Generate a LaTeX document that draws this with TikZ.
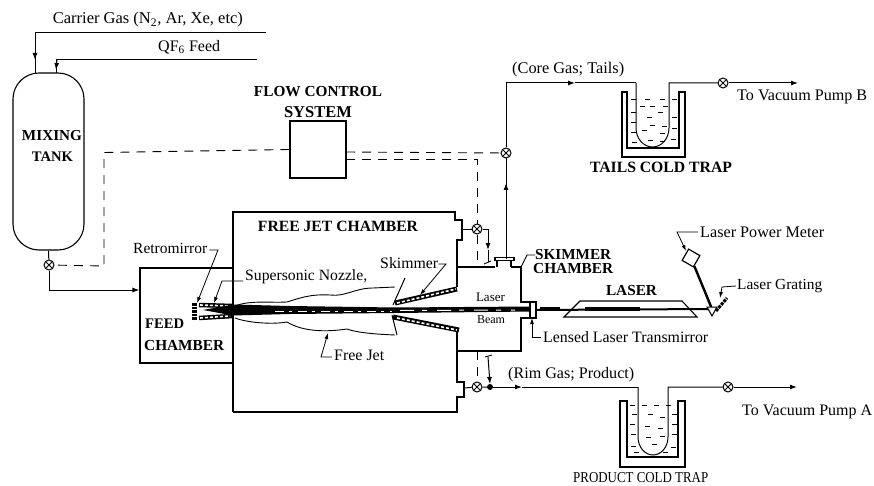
\documentclass[tikz,border=0pt]{standalone}
\usepackage{graphicx}
\usepackage{fontspec}
\setmainfont{Liberation Serif}
\usetikzlibrary{arrows.meta}
\newcommand{\fitw}[2]{\resizebox{#1pt}{!}{#2}}
\tikzset{
  x=1pt,y=-1pt,
  pipe/.style={line width=1pt,draw=black},
  flow/.style={pipe,-{Latex[length=7pt,width=5pt]}},
  lead/.style={line width=0.8pt,-{Latex[length=6pt,width=4pt]}},
  ctrl/.style={line width=0.9pt,dash pattern=on 9pt off 7pt},
  lab/.style={inner sep=0pt,anchor=west},
  head/.style={inner sep=0pt,font=\bfseries},
  valve/.style={circle,draw,line width=1pt,minimum size=10pt,inner sep=0pt,fill=white,
    path picture={\draw[line width=.9pt] (path picture bounding box.north west)--(path picture bounding box.south east)
      (path picture bounding box.north east)--(path picture bounding box.south west);}},
  dotj/.style={circle,fill=black,minimum size=6pt,inner sep=0pt},
  box/.style={draw,line width=1.1pt,inner sep=0pt},
  wall/.style={line width=1.4pt,line join=miter},
  strip/.style={line width=5pt,draw=black},
  stripin/.style={line width=1.6pt,draw=white,dash pattern=on 3pt off 2pt},
  liq/.style={line width=.8pt},
}
\begin{document}
\begin{tikzpicture}
\path[use as bounding box,fill=white] (0,0) rectangle (874,486);

% ---------- main nodes
\node[box,rounded corners=26pt,minimum width=71pt,minimum height=177pt] (tank) at (48.5,161.5) {};
\node[box,minimum width=56pt,minimum height=57pt] (flow) at (318,149.5) {};
\node[box,minimum width=93pt,minimum height=95pt] (feed) at (186.5,315.5) {};

\node[valve] (v1) at (49,265) {};
\node[valve] (v2) at (477,229) {};
\node[valve] (v3) at (506,153) {};
\node[valve] (v4) at (477,387) {};
\node[valve] (v5) at (723,83) {};
\node[valve] (v6) at (728,387) {};
\node[dotj] (j1) at (490,387) {};

% free jet + skimmer chamber
\draw[wall] (233,412)--(233,212)--(455,212)--(455,220)--(462,220)--(462,240)--(457,240)--(457,287);
\draw[wall] (457,331)--(457,382)--(464,382)--(464,397)--(457,397)--(457,412)--(233,412);
\draw[line width=1.1pt] (457,267)--(495,267) (511,267)--(521,267)--(521,302)--(530,302)
   (530,318)--(521,318)--(521,351)--(457,351);
\coordinate (fl1) at (464,388);
\coordinate (fl2) at (462,229);

% ---------- input pipes
\coordinate (cg0) at (266,33);
\coordinate (cg1) at (35,33);
\coordinate (cg2) at (35,73);
\coordinate (qf0) at (257,60);
\coordinate (qf1) at (56,60);
\coordinate (qf2) at (56,73);
\draw[pipe] (cg0)--(cg1)--(cg2);
\draw[flow] (35,33)--(35,60);
\draw[pipe] (qf0)--(qf1)--(qf2);
\draw[flow] (57,60)--(56,70);
\draw[pipe] (tank.south)--(v1);
\draw[flow] (v1)--(49,290)--(feed.west|-0,290);

% ---------- control (dashed) lines
\draw[ctrl] (flow.west)--(104,152.5)--(104,266)--(v1);
\draw[ctrl] (346,152)--(v3);
\draw[ctrl] (346,159)--(477,159)--(v2);
\draw[ctrl] (v2)--(477,267);
\draw[ctrl] (477,351)--(v4);

% ---------- core gas (top)
\node[draw,line width=1.1pt,minimum width=19pt,minimum height=3pt,inner sep=0pt] (sf) at (504.5,259) {};
\draw[line width=1.1pt] (497,260)--(497,267) (511,260)--(511,267);
\draw[pipe] (506,259)--(v3);
\draw[flow] (506,259)--(506,183);
\coordinate (c1) at (506,83);
\coordinate (c2) at (636,83);
\coordinate (c3) at (669,83);
\draw[pipe] (v3)--(c1);
\draw[flow] (c1)--(575,83);
\draw[pipe] (575,83)--(c2);
\draw[pipe] (c2)--(636,128) arc[start angle=180,end angle=360,x radius=16.5,y radius=-19]--(c3)--(v5);
\coordinate (pB) at (798,83);
\draw[flow] (v5)--(pB);
% tails trap
\draw[line width=1.2pt] (622,92)--(622,157)--(685,157)--(685,92)--(679,92)--(679,148)--(627,148)--(627,92)--cycle;
\foreach \xa/\ya in {631/99,645/99,660/99,672/99,640/106,650/106,663/106,631/112,647/117,658/112,672/117,631/122,650/125,662/126,631/132,642/130,660/133,672/128,648/140,660/141,632/142,671/139}
  \draw[liq] (\xa,\ya)--++(5,0);

% ---------- rim gas (bottom)
\draw[pipe] (fl1)--(v4)--(j1);
\coordinate (r1) at (638,387);
\coordinate (r2) at (668,387);
\draw[flow] (j1)--(522,387);
\draw[pipe] (522,387)--(r1);
\draw[pipe] (r1)--(638,437) arc[start angle=180,end angle=360,x radius=15,y radius=-18]--(r2)--(v6);
\coordinate (pA) at (797,387);
\draw[flow] (v6)--(pA);
\draw[flow] (488,357)--(490,384);
\draw[line width=.9pt] (485,357)--(492,355);
% product trap
\draw[line width=1.2pt] (620,401)--(620,467)--(685,467)--(685,401)--(678,401)--(678,457)--(627,457)--(627,401)--cycle;
\foreach \xa/\ya in {630/405,642/405,654/405,666/405,632/414,648/414,660/417,672/414,630/424,645/426,658/428,672/424,631/434,646/437,660/436,672/434,631/446,652/444,671/447,634/452,663/452}
  \draw[liq] (\xa,\ya)--++(5,0);

% valve v2 branch to chamber flange
\draw[pipe] (fl2)--(v2);
\draw[pipe] (v2)--(488,229);
\draw[flow] (488,229)--(488,250);
\draw[pipe] (488,250)--(488,262);
\draw[line width=.9pt] (484,264)--(491,261);

% ---------- skimmer cones
\draw[strip] (395,303)--(457,289);
\draw[stripin] (397,303)--(456,289);
\draw[strip] (393,317)--(459,330);
\draw[stripin] (397,318)--(457,330);
\draw[line width=1pt] (405,278)--(393,305) (392,315)--(397,335);

% ---------- free jet
\draw[line width=.9pt] (235,306) .. controls (250,300) and (270,303) .. (287,302)
  .. controls (300,298) and (310,294) .. (330,295) .. controls (345,297) and (355,288) .. (373,288)--(395,287);
\draw[line width=.9pt] (235,318) .. controls (245,322) and (270,325) .. (287,322)
  .. controls (300,330) and (320,333) .. (347,329) .. controls (355,332) and (370,334) .. (395,335);

% ---------- nozzle, retromirror
\draw[strip,line width=4.5pt] (199,305)--(233,306);
\draw[stripin] (200,305)--(230,306);
\draw[strip,line width=4.5pt] (199,318)--(233,316);
\draw[stripin] (200,318)--(230,316);
\draw[line width=5pt,dash pattern=on 2.5pt off 1pt] (194.5,303)--(194.5,320);

% ---------- beam
\fill[black] (203,310)--(233,304.5)--(290,306)--(395,307.5)--(533,306.5)--(533,311.5)--(395,313)--(290,314)--(233,315.5)--cycle;
\draw[white,line width=1pt,dash pattern=on 9pt off 5pt on 3pt off 6pt] (275,311)--(392,311);
\draw[white,line width=1pt,dash pattern=on 14pt off 8pt on 5pt off 10pt] (400,310.5)--(515,310);
\node[draw,fill=white,line width=1.1pt,minimum width=6pt,minimum height=16pt,inner sep=0pt] (lens) at (533,310) {};
\coordinate (gs) at (712,309);
\draw[line width=2pt] (lens)--(gs);
\draw[line width=3.2pt] (540,309)--(560,309) (585,309)--(640,309);

% ---------- laser
\draw[line width=1.1pt] (580,301)--(682,301)--(697,317)--(564,317)--cycle;

% ---------- power meter and grating
\node[draw,line width=1.2pt,fill=white,minimum size=13pt,inner sep=0pt,rotate=-30] (pm) at (691,258) {};
\draw[line width=2.4pt] (pm)--(gs);
\draw[line width=1pt,fill=white] (707,307)--(717,307)--(712,316)--cycle;
\draw[line width=3pt,dash pattern=on 3pt off 1pt] (716,311)--(727,298);

% ---------- labels
\node[inner sep=0pt,font=\bfseries] (tM1) at (52,136) {\fitw{60}{MIXING}};
\node[inner sep=0pt,font=\bfseries] (tM2) at (52.5,157) {\fitw{41}{TANK}};
\node[lab] (tCG) at (52.7,20) {\fitw{190}{Carrier Gas (N\textsubscript{2}, Ar, Xe, etc)}};
\node[lab] (tQF) at (158,47) {\fitw{62}{QF\textsubscript{6} Feed}};
\node[head] (tFC) at (318,92) {\fitw{128}{FLOW CONTROL}};
\node[head] (tFS) at (318,112) {\fitw{68}{SYSTEM}};
\node[head] (tFJ) at (338,226) {\fitw{160}{FREE JET CHAMBER}};
\node[head,anchor=west] (tFE) at (145,324) {\fitw{39}{FEED}};
\node[head,anchor=west] (tFH) at (144,346) {\fitw{80}{CHAMBER}};
\node[head] (tTT) at (661,167) {\fitw{142}{TAILS COLD TRAP}};
\node[lab] (tPT) at (573,478) {\resizebox{135pt}{10pt}{PRODUCT COLD TRAP}};
\node[lab] (tCore) at (512,70) {\fitw{112}{(Core Gas; Tails)}};
\node[lab] (tRim) at (508,375) {\fitw{126}{(Rim Gas; Product)}};
\node[lab] (tB) at (737,97) {\fitw{130}{To Vacuum Pump B}};
\node[lab] (tA) at (742,412) {\fitw{130}{To Vacuum Pump A}};
\node[head,anchor=west] (tSC) at (535,255) {\fitw{76}{SKIMMER}};
\node[head,anchor=west] (tSD) at (533,269) {\fitw{80}{CHAMBER}};
\node[head] (tLA) at (631.5,291) {\fitw{51}{LASER}};
\node[lab] (tPM) at (700,232) {\fitw{124}{Laser Power Meter}};
\node[lab] (tGr) at (737,286) {\fitw{85}{Laser Grating}};
\node[lab] (tTr) at (543,337) {\fitw{165}{Lensed Laser Transmirror}};
\node[lab] (tRe) at (133,248) {\fitw{74}{Retromirror}};
\node[lab] (tNo) at (245,277) {\fitw{122}{Supersonic Nozzle,}};
\node[lab] (tSk) at (380,263) {\fitw{58}{Skimmer}};
\node[lab] (tJe) at (334,355) {\fitw{50}{Free Jet}};
\node[inner sep=0pt,fill=white] (tL1) at (490.5,297) {\fitw{29}{Laser}};
\node[inner sep=0pt] (tL2) at (491,320) {\fitw{28}{Beam}};

% ---------- leaders
\draw[lead] (tRe.east)++(2,2)--(218,250)--(197,303);
\draw[lead] (tNo.west)++(-2,4)--(222,281)--(214,303);
\draw[lead] (tSk.east)++(0,1)--(446,264)--(420,295);
\draw[lead] (tJe.west)++(-2,2)--(321,357)--(328,333);
\draw[lead] (tTr.west)++(-2,0)--(532,337)--(532,318);
\draw[lead] (tPM.west)++(-2,0)--(677,232)--(686,251);
\draw[lead] (tGr.west)++(-1,0)--(722,287)--(720,298);
\draw[line width=.9pt] (tSC.west)--(527,255)--(521,267);
\end{tikzpicture}
\end{document}
